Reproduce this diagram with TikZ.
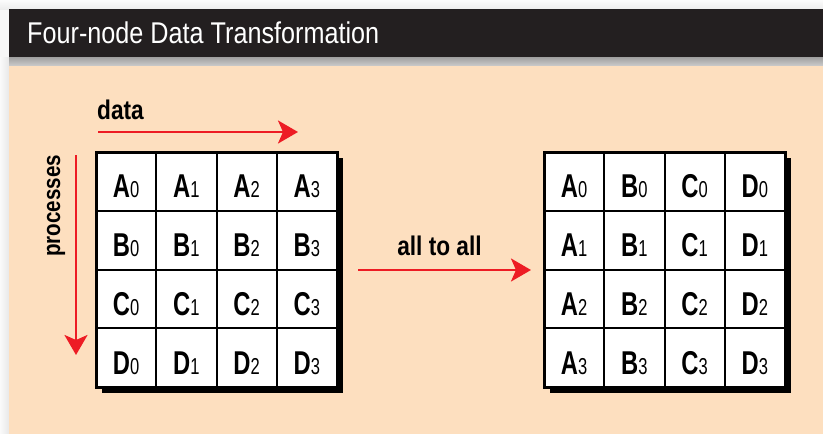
\documentclass[tikz,border=0pt]{standalone}
\usepackage{fontspec}
\setmainfont{Liberation Sans}
\newfontfamily\condfont[FakeStretch=0.84]{Liberation Sans}
\newfontfamily\cellfont[FakeStretch=0.72]{Liberation Sans}
\usetikzlibrary{arrows.meta,backgrounds}
\definecolor{peach}{RGB}{253,223,191}
\definecolor{barblack}{RGB}{35,31,32}
\definecolor{arrowred}{RGB}{237,28,36}
\newcommand\celltxt[2]{{\cellfont\fontsize{33}{33}\selectfont\bfseries #1}{\cellfont\fontsize{23}{23}\selectfont #2}}
\begin{document}
\begin{tikzpicture}[x=1pt,y=-1pt,
  redarrow/.style={draw=arrowred, line width=2.7pt, -{Stealth[length=20pt,width=23pt,inset=5pt]}},
  cell/.style={draw=black, line width=2pt, fill=white, minimum width=60.25pt, minimum height=58.75pt,
               inner sep=0pt, outer sep=0pt, text height=33pt, text depth=0pt, anchor=north west},
  lbl/.style={inner sep=0pt, text=black, font={\condfont\bfseries\fontsize{27}{27}\selectfont}}]
\useasboundingbox (0,0) rectangle (823,434);

% cells, left grid (rows = processes A..D, columns = data 0..3)
\foreach \L [count=\r from 0] in {A,B,C,D}
  \foreach \c in {0,...,3}
    \node[cell] (L\r\c) at ({96+60.25*\c},{152+58.75*\r}) {\celltxt{\L}{\c}};

% cells, right grid (transposed)
\foreach \L [count=\c from 0] in {A,B,C,D}
  \foreach \r in {0,...,3}
    \node[cell] (R\r\c) at ({544+60.25*\c},{152+58.75*\r}) {\celltxt{\L}{\r}};

% outer borders
\draw[line width=3pt] (L00.north west) rectangle (L33.south east);
\draw[line width=3pt] (R00.north west) rectangle (R33.south east);

\begin{scope}[on background layer]
  \fill[gray!6] (0,0) rectangle (823,434);
  \shade[top color=gray!3, bottom color=gray!14] (0,0) rectangle (823,9);
  \shade[left color=gray!4, right color=gray!18] (0,57) rectangle (9,434);
  \fill[barblack] (9,9) rectangle (823,57);
  \shade[top color=gray!75, bottom color=gray!40] (9,57) rectangle (823,66);
  \fill[peach] (9,66) rectangle (823,434);
  \fill[black] ([shift={(6,6)}]L00.north west) rectangle ([shift={(6,6)}]L33.south east);
  \fill[black] ([shift={(6,6)}]R00.north west) rectangle ([shift={(6,6)}]R33.south east);
\end{scope}

% title
\node[anchor=base west, inner sep=0pt, text=white, font={\condfont\fontsize{30}{30}\selectfont}] (title) at (27,43.3) {Four-node Data Transformation};

% labels
\node[lbl, anchor=base west] (data) at (97,119) {data};
\node[lbl, rotate=90, font={\condfont\bfseries\fontsize{24.5}{24.5}\selectfont}] (proc) at (56,206) {processes};
\node[lbl, anchor=base] (ata) at (439.5,255) {all to all};

% arrows
\coordinate (d1) at (98,132);
\coordinate (d2) at (298,132);
\coordinate (p1) at (76,155);
\coordinate (p2) at (76,355);
\coordinate (a1) at (358,270);
\coordinate (a2) at (531,270);
\draw[redarrow] (d1) -- (d2);
\draw[redarrow] (p1) -- (p2);
\draw[redarrow] (a1) -- (a2);
\end{tikzpicture}
\end{document}
